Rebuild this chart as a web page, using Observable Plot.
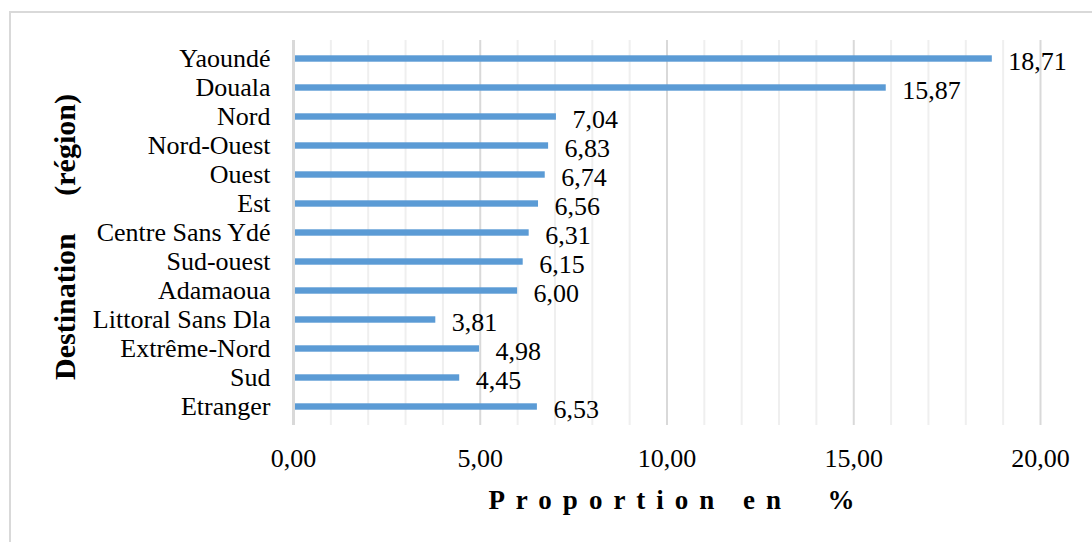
<!DOCTYPE html>
<html>
<head>
<meta charset="utf-8">
<script src="https://cdn.jsdelivr.net/npm/d3@7"></script>
<script src="https://cdn.jsdelivr.net/npm/@observablehq/plot@0.6"></script>
<style>
  html, body { margin: 0; padding: 0; background: #fff; overflow: hidden; }
  #wrap { position: relative; width: 1092px; height: 542px; }
  #frame { position: absolute; left: 9px; top: 11px; width: 2000px; height: 2000px; border: 2px solid #d9d9d9; box-sizing: border-box; }
  #chart { position: absolute; left: 0; top: 0; }
</style>
</head>
<body>
<div id="wrap"><div id="frame"></div><div id="chart"></div></div>
<script>
const categories = ["Yaoundé", "Douala", "Nord", "Nord-Ouest", "Ouest", "Est", "Centre Sans Ydé", "Sud-ouest", "Adamaoua", "Littoral Sans Dla", "Extrême-Nord", "Sud", "Etranger"];
const values = [18.71, 15.87, 7.04, 6.83, 6.74, 6.56, 6.31, 6.15, 6.00, 3.81, 4.98, 4.45, 6.53];
const xTicks = [0, 5, 10, 15, 20];
const minorTicks = [1, 2, 3, 4, 6, 7, 8, 9, 11, 12, 13, 14, 16, 17, 18, 19];
const xTitle = "Proportion en  %";
const yTitle = "Destination     (région)";

const data = categories.map((c, i) => ({cat: c, v: values[i]}));
const fmt = v => v.toFixed(2).replace(".", ",");
const serif = "'Liberation Serif', 'Times New Roman', serif";

const plot = Plot.plot({
  width: 1092,
  height: 542,
  marginLeft: 293,
  marginRight: 52,
  marginTop: 40,
  marginBottom: 117,
  style: {fontFamily: serif, fontSize: "26px", color: "#000", background: "transparent"},
  x: {domain: [0, 20], ticks: xTicks, tickFormat: fmt, tickSize: 0, tickPadding: 23, label: null},
  y: {domain: categories, padding: 0, tickSize: 0, tickPadding: 23, label: null},
  marks: [
    Plot.ruleX(minorTicks, {stroke: "#efefef", strokeWidth: 2}),
    Plot.ruleX(xTicks.filter(t => t > 0), {stroke: "#d9d9d9", strokeWidth: 2}),
    Plot.barX(data, {x: "v", y: "cat", fill: "#5b9bd5", insetTop: 11.3, insetBottom: 11.3}),
    Plot.ruleX([0], {stroke: "#d9d9d9", strokeWidth: 3}),
    Plot.text(data, {x: "v", y: "cat", text: d => fmt(d.v), textAnchor: "start", dx: 16, dy: 3, fontSize: 26, fill: "#000"})
  ]
});
document.getElementById("chart").appendChild(plot);

const svg = d3.select(plot);
svg.append("text")
  .attr("x", 677).attr("y", 509)
  .attr("text-anchor", "middle")
  .attr("font-weight", "bold")
  .attr("font-size", 27)
  .style("letter-spacing", "11px")
  .style("white-space", "pre")
  .text(xTitle);
svg.append("text")
  .attr("transform", "translate(75,237) rotate(-90)")
  .attr("text-anchor", "middle")
  .attr("font-weight", "bold")
  .attr("font-size", 30)
  .style("white-space", "pre")
  .text(yTitle);
</script>
</body>
</html>
